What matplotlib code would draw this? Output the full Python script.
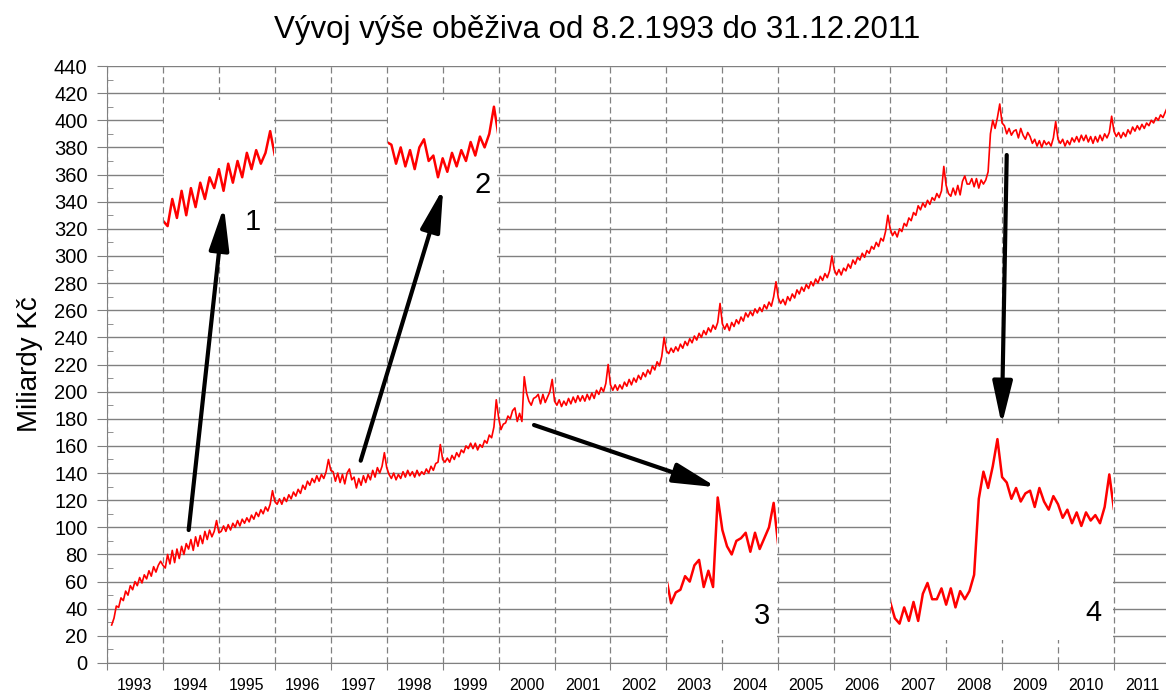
import numpy as np
import matplotlib
matplotlib.use('Agg')
import matplotlib.pyplot as plt
from matplotlib.ticker import MultipleLocator

plt.rcParams['font.family'] = ['Liberation Sans', 'DejaVu Sans']

# Obezivo v mld. Kc: dve hodnoty za mesic (k 1. a k 15. dni),
# posledni hodnota roku je vanocni spicka. Rok 1993 zacina az v unoru.
y1993 = [28, 33, 42, 41, 48, 46, 53, 50, 57, 54, 60, 57, 63, 59, 65, 62, 68, 64, 71, 67, 72, 75]
y1994 = [72, 70, 80, 73, 83, 74, 84, 77, 86, 80, 88, 84, 91, 83, 93, 86, 94, 88, 97, 91, 98, 93, 97, 105]
y1995 = [96, 97, 101, 97, 102, 98, 103, 100, 105, 101, 106, 103, 107, 104, 109, 106, 111, 108, 113, 110, 115, 112, 117, 127]
y1996 = [119, 117, 121, 117, 122, 119, 124, 121, 126, 123, 128, 125, 131, 128, 134, 131, 136, 133, 138, 134, 139, 136, 141, 150]
y1997 = [142, 141, 134, 140, 133, 139, 132, 140, 143, 135, 137, 129, 136, 131, 138, 133, 139, 135, 142, 137, 144, 140, 145, 155]
y1998 = [144, 139, 136, 140, 135, 139, 136, 141, 137, 142, 138, 141, 137, 142, 138, 141, 139, 143, 140, 145, 142, 147, 148, 161]
y1999 = [150, 148, 151, 148, 153, 150, 155, 152, 157, 155, 160, 158, 162, 158, 162, 157, 161, 159, 164, 162, 168, 166, 174, 194]
y2000 = [181, 172, 176, 177, 182, 180, 186, 188, 178, 184, 178, 211, 199, 193, 190, 195, 196, 198, 191, 198, 192, 196, 200, 209]
y2001 = [193, 190, 194, 189, 193, 190, 195, 191, 196, 192, 197, 193, 197, 193, 198, 194, 199, 195, 201, 198, 203, 200, 206, 220]
y2002 = [205, 201, 205, 201, 205, 202, 207, 204, 209, 205, 210, 207, 212, 209, 214, 211, 216, 213, 219, 216, 222, 219, 226, 240]
y2003 = [230, 228, 232, 229, 233, 230, 235, 232, 237, 234, 239, 236, 241, 238, 243, 240, 245, 242, 247, 244, 249, 246, 251, 265]
y2004 = [250, 246, 250, 245, 251, 248, 253, 250, 255, 252, 258, 255, 259, 256, 261, 258, 262, 259, 264, 261, 266, 263, 270, 281]
y2005 = [269, 265, 268, 264, 270, 267, 272, 269, 275, 272, 277, 274, 279, 276, 281, 278, 283, 280, 285, 282, 287, 284, 289, 300]
y2006 = [290, 286, 290, 286, 291, 289, 294, 291, 297, 294, 299, 297, 302, 299, 304, 302, 307, 305, 310, 307, 313, 311, 318, 330]
y2007 = [320, 315, 318, 314, 320, 318, 324, 322, 328, 326, 332, 330, 337, 334, 339, 336, 341, 338, 343, 341, 346, 343, 348, 366]
y2008 = [352, 346, 344, 350, 345, 352, 345, 355, 359, 353, 353, 357, 351, 357, 350, 356, 353, 356, 362, 390, 400, 394, 402, 412]
y2009 = [398, 396, 390, 394, 389, 392, 393, 387, 394, 389, 386, 391, 388, 383, 386, 381, 385, 380, 385, 382, 384, 381, 387, 399]
y2010 = [386, 383, 386, 381, 385, 382, 387, 384, 388, 384, 389, 385, 389, 384, 388, 383, 388, 384, 389, 385, 390, 387, 391, 403]
y2011 = [392, 388, 391, 387, 391, 388, 393, 390, 395, 392, 396, 393, 397, 394, 398, 396, 400, 398, 402, 400, 404, 402, 406, 410]

years = list(range(1993, 2012))
series = [y1993, y1994, y1995, y1996, y1997, y1998, y1999, y2000, y2001, y2002,
          y2003, y2004, y2005, y2006, y2007, y2008, y2009, y2010, y2011]

t = []
v = []
for yr, vals in zip(years, series):
    k0 = 24 - len(vals)
    for k, val in enumerate(vals):
        t.append(yr + (k0 + k) / 24.0)
        v.append(val)
t = np.array(t)
v = np.array(v)

# vyrezy (dvojnasobne zvetseni): okno v grafu, pocatek obdobi, posun
zooms = [
    (1994.0, 1996.0, 295, 415, 1994.0, 182),
    (1998.0, 2000.0, 290, 415, 1997.0, 100),
    (2003.0, 2005.0, 17, 136, 2000.0, -300),
    (2007.0, 2011.0, 17, 175, 2008.0, -659),
]
arrows = [
    ((1994.46, 98.0), (1995.09, 336.4)),
    ((1997.535, 149.1), (1999.01, 349.9)),
    ((2000.633, 175.4), (2003.90, 129.5)),
    ((2009.083, 374.4), (2008.994, 175.4)),
]
labels = [('1', 1995.61, 325), ('2', 1999.72, 352), ('3', 2004.71, 35), ('4', 2010.63, 37)]

fig = plt.figure(figsize=(11.66, 6.96), dpi=100)
ax = fig.add_axes([107 / 1166, 33 / 696, 1059 / 1166, 597 / 696])

ax.plot(t, v, color='red', lw=1.2, zorder=3)

ax.set_xlim(1993.0, 2011.93)
ax.set_ylim(0, 440)
ax.yaxis.set_major_locator(MultipleLocator(20))
ax.yaxis.set_minor_locator(MultipleLocator(10))
ax.set_xticks(np.arange(1993, 2012))
ax.set_xticklabels([])
ax.set_xticks(np.arange(1993.5, 2012, 1), minor=True)
ax.set_xticklabels([str(y) for y in years], minor=True)

gray = '#808080'
ax.grid(axis='y', which='major', color=gray, lw=1.0, ls='-')
ax.grid(axis='x', which='major', color=gray, lw=0.9, ls=(0, (5, 3)))
ax.tick_params(axis='y', which='major', direction='out', length=7, color=gray, labelsize=14.5, pad=7)
ax.tick_params(axis='y', which='minor', direction='in', length=4, color=gray)
ax.tick_params(axis='x', which='major', direction='out', length=5, color=gray)
ax.tick_params(axis='x', which='minor', length=0, labelsize=11.5, pad=11)
for s in ['top', 'right']:
    ax.spines[s].set_visible(False)
for s in ['left', 'bottom']:
    ax.spines[s].set_color(gray)

ax.set_ylabel('Miliardy Kč', fontsize=20)
ax.yaxis.set_label_coords(-0.06, 0.5)

e = 0.02
for bx0, bx1, by0, by1, t0, c in zooms:
    ins = ax.inset_axes([bx0 + e, by0, bx1 - bx0 - 2 * e, by1 - by0], transform=ax.transData, zorder=5)
    ins.plot(t, v, color='red', lw=1.8)
    ins.set_xlim(t0 + e / 2, t0 + (bx1 - bx0 - e) / 2)
    ins.set_ylim((by0 - c) / 2, (by1 - c) / 2)
    ins.set_facecolor('white')
    ins.set_xticks([])
    ins.set_yticks([])
    for s in ins.spines.values():
        s.set_visible(False)

for tail, tip in arrows:
    ax.annotate('', xy=tip, xytext=tail, zorder=10,
                arrowprops=dict(arrowstyle='-|>,head_length=1.3,head_width=0.3',
                                lw=3, color='black', mutation_scale=20,
                                shrinkA=0, shrinkB=0))

for txt, x, y in labels:
    ax.text(x, y, txt, fontsize=21, ha='center', va='center', zorder=10)

fig.text(0.512, 0.957, 'Vývoj výše oběživa od 8.2.1993 do 31.12.2011', fontsize=22.5,
         ha='center', va='center')

plt.savefig('out.png', dpi=100)
